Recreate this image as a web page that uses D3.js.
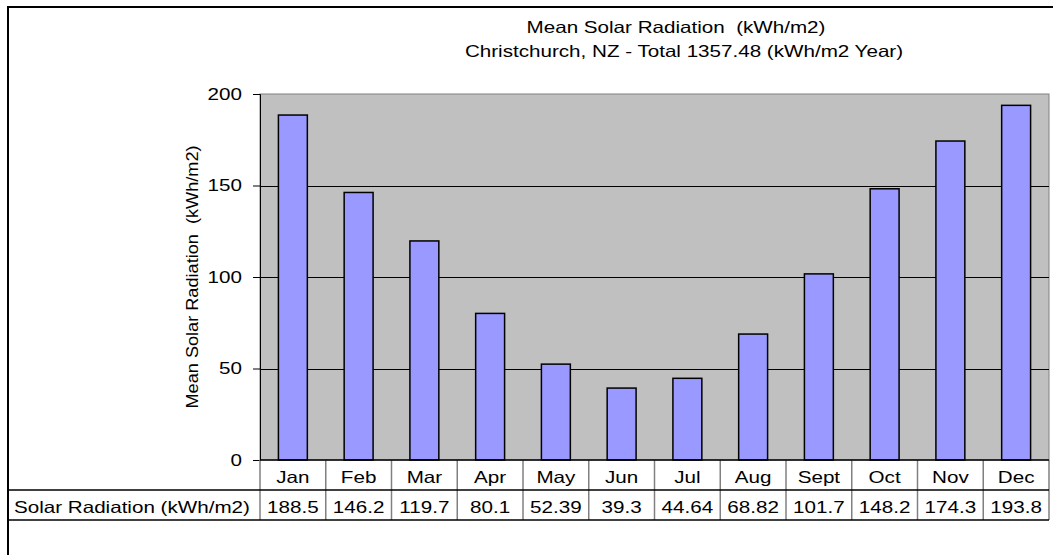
<!DOCTYPE html>
<html><head><meta charset="utf-8">
<script src="https://cdn.jsdelivr.net/npm/d3@7/dist/d3.min.js"></script>
<style>
html,body{margin:0;padding:0;background:#fff;}
svg{display:block;font-family:"Liberation Sans",Arial,sans-serif;}
text{white-space:pre;}
</style></head>
<body>
<svg id="c" width="1053" height="555"></svg>
<script>
const months = ["Jan","Feb","Mar","Apr","May","Jun","Jul","Aug","Sept","Oct","Nov","Dec"];
const values = [188.5,146.2,119.7,80.1,52.39,39.3,44.64,68.82,101.7,148.2,174.3,193.8];
const valueLabels = ["188.5","146.2","119.7","80.1","52.39","39.3","44.64","68.82","101.7","148.2","174.3","193.8"];
const yTicks = [0,50,100,150,200];
const titleLines = ["Mean Solar Radiation  (kWh/m2)","Christchurch, NZ - Total 1357.48 (kWh/m2 Year)"];
const yLabel = "Mean Solar Radiation  (kWh/m2)";
const seriesName = "Solar Radiation (kWh/m2)";

const FS = 16.5, SX = 1.25;
const svg = d3.select("#c");
const L = 260, R = 1049, T = 94, B = 460;
const rowH = 30;

function stext(parent, x, y, anchor, str){
  return parent.append("g").attr("transform",`translate(${x},${y}) scale(${SX},1)`)
    .append("text").attr("text-anchor",anchor).attr("font-size",FS).attr("fill","#000").text(str);
}

// outer chart border
svg.append("path").attr("d","M8,555 V7 H1053").attr("fill","none").attr("stroke","#000").attr("stroke-width",2);

const x = d3.scaleBand().domain(months).range([L,R]).paddingInner(0).paddingOuter(0);
const y = d3.scaleLinear().domain([0,200]).range([B,T]);

// plot area
svg.append("rect").attr("x",L).attr("y",T).attr("width",R-L).attr("height",B-T)
  .attr("fill","#c0c0c0").attr("stroke","#808080").attr("stroke-width",1);

// gridlines
svg.append("g").selectAll("line").data(yTicks.filter(d=>d>0 && d<200)).join("line")
  .attr("x1",L).attr("x2",R).attr("y1",d=>Math.round(y(d))+0.5).attr("y2",d=>Math.round(y(d))+0.5)
  .attr("stroke","#000").attr("stroke-width",1);

// bars
const bw = x.bandwidth()*0.44;
svg.append("g").selectAll("rect").data(values).join("rect")
  .attr("x",(d,i)=>x(months[i])+x.bandwidth()/2-bw/2)
  .attr("y",d=>y(d))
  .attr("width",bw)
  .attr("height",d=>B-y(d))
  .attr("fill","#9999ff").attr("stroke","#000").attr("stroke-width",1.5);

// y axis
const TS = 7, TP = 11;
const yAxis = d3.axisLeft(y).tickValues(yTicks).tickSize(TS).tickPadding(TP);
const ga = svg.append("g").attr("transform",`translate(${L},0)`).call(yAxis);
ga.select(".domain").attr("stroke","#000");
ga.selectAll(".tick line").attr("stroke","#000");
ga.selectAll("text").attr("font-size",FS).attr("fill","#000").attr("font-family","Liberation Sans, Arial, sans-serif")
  .attr("x",-(TS+TP)/SX).attr("transform",`scale(${SX},1)`);

// y label
svg.append("text").attr("transform",`translate(198,${(T+B)/2}) rotate(-90) scale(1.1,1)`)
  .attr("text-anchor","middle").attr("font-size",FS).attr("fill","#000").text(yLabel);

// title
stext(svg, 676, 33, "middle", titleLines[0]);
stext(svg, 684, 57, "middle", titleLines[1]);

// data table
const tg = svg.append("g");
const vx = months.map(m=>x(m)).concat([R]);
tg.selectAll("line.v").data(vx).join("line").attr("class","v")
  .attr("x1",d=>d).attr("x2",d=>d).attr("y1",B).attr("y2",B+2*rowH)
  .attr("stroke","#808080").attr("stroke-width",1.5);
tg.append("line").attr("x1",L).attr("x2",R).attr("y1",B).attr("y2",B).attr("stroke","#000").attr("stroke-width",1.5);
tg.append("line").attr("x1",8).attr("x2",R).attr("y1",B+rowH).attr("y2",B+rowH).attr("stroke","#000").attr("stroke-width",1.5);
tg.append("line").attr("x1",8).attr("x2",R).attr("y1",B+2*rowH).attr("y2",B+2*rowH).attr("stroke","#000").attr("stroke-width",1.5);
months.forEach((m,i)=>{
  stext(tg, x(m)+x.bandwidth()/2, B+23, "middle", m);
  stext(tg, x(m)+x.bandwidth()/2, B+rowH+23, "middle", valueLabels[i]);
});
stext(tg, 14, B+rowH+23, "start", seriesName);
</script>
</body></html>
